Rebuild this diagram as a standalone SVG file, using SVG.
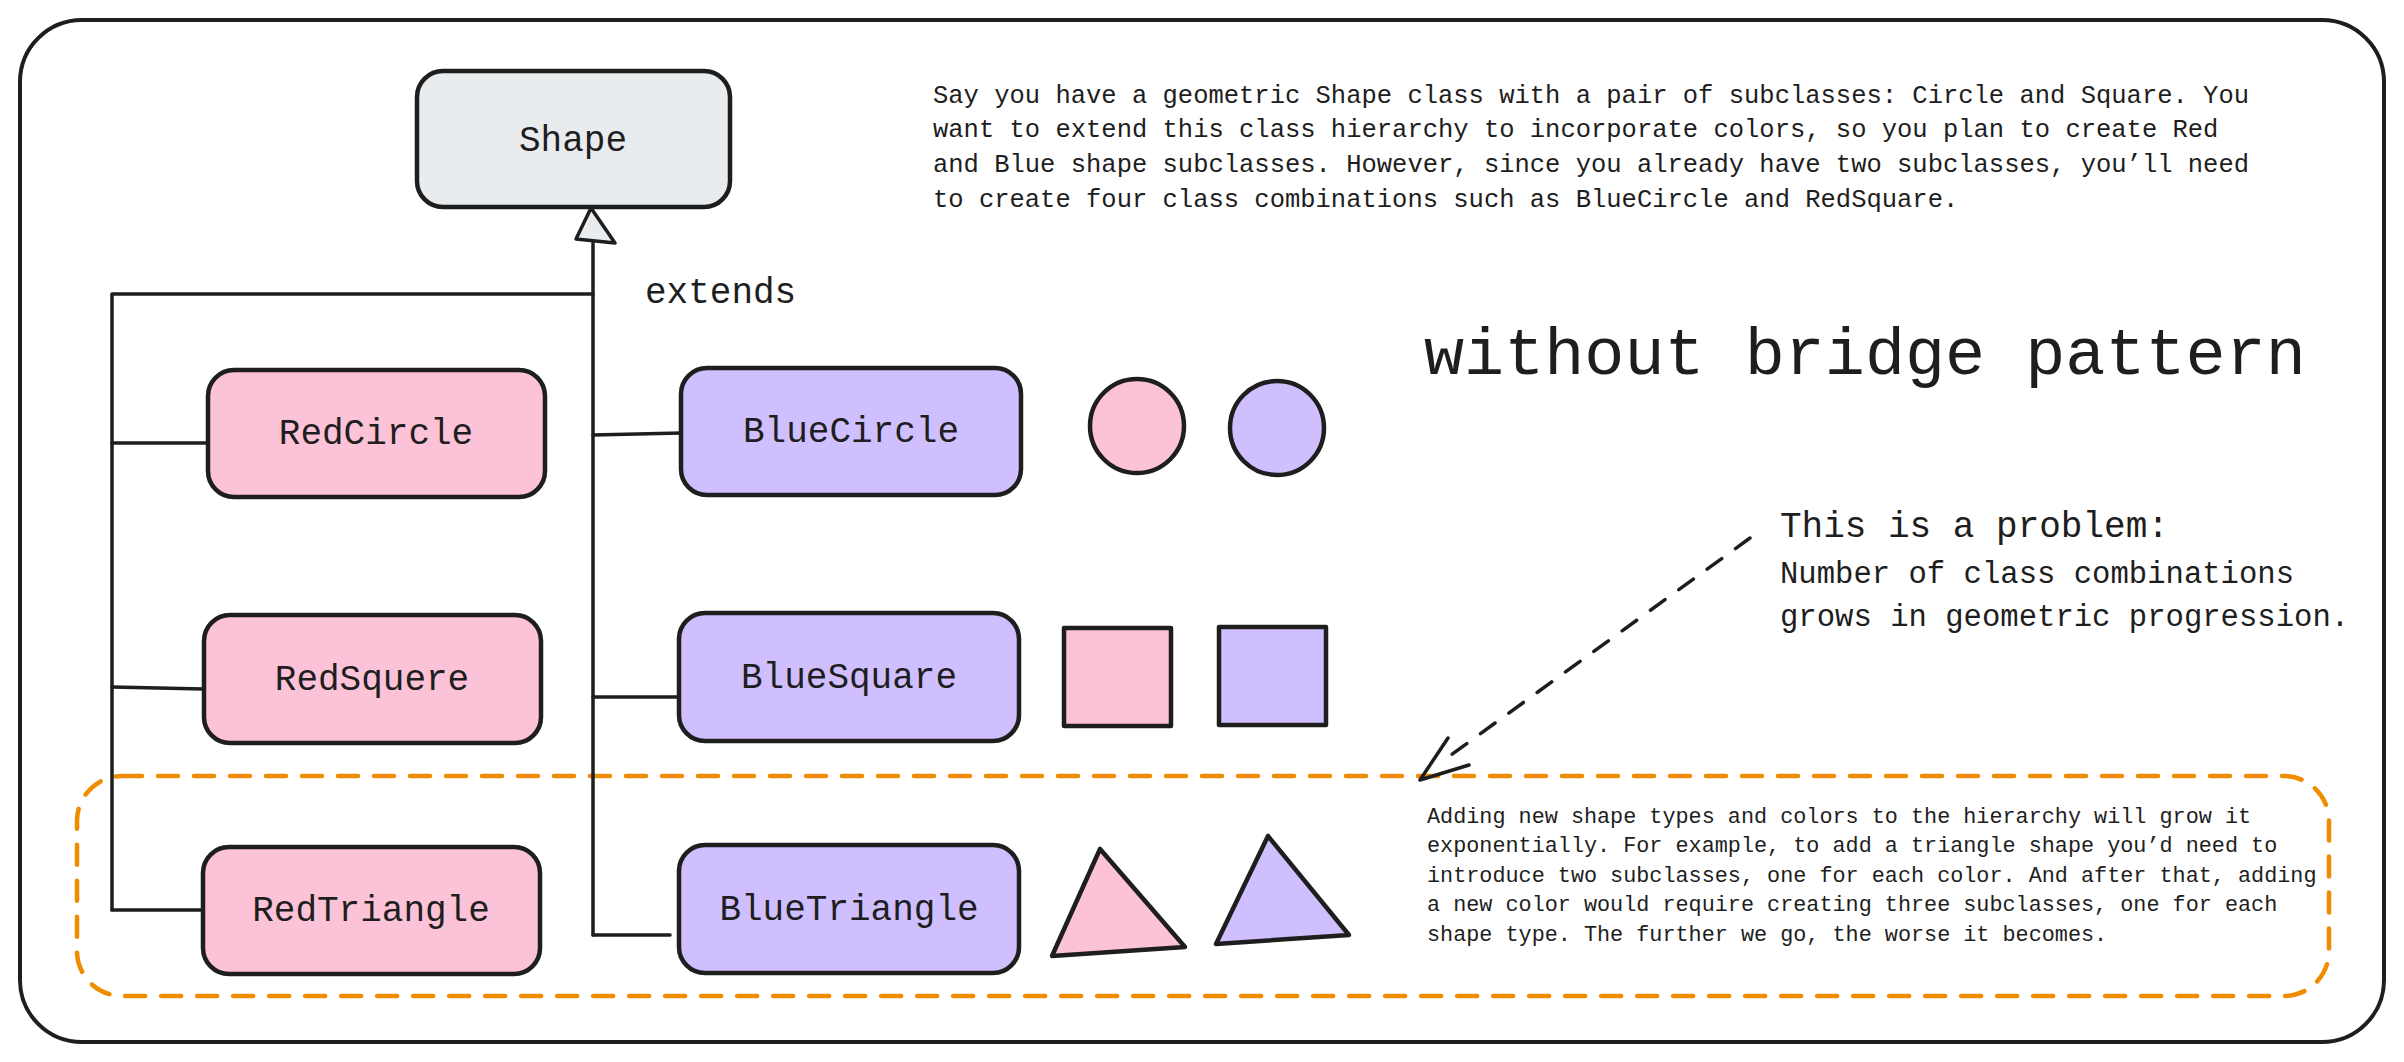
<svg xmlns="http://www.w3.org/2000/svg" width="2404" height="1062" viewBox="0 0 2404 1062">
<style>
.box{stroke:#1e1e1e;stroke-width:4.5;stroke-linejoin:round}
.gray{fill:#e9ecef}
.pink{fill:#fcc2d7}
.purple{fill:#d0bfff}
.lbl{font-family:"Liberation Mono","DejaVu Sans Mono",monospace;font-size:36px;fill:#1e1e1e;text-anchor:middle}
.txt{font-family:"Liberation Mono","DejaVu Sans Mono",monospace;fill:#1e1e1e}
.con{fill:none;stroke:#1e1e1e;stroke-width:3.5;stroke-linecap:round;stroke-linejoin:round}
</style>
<rect width="2404" height="1062" fill="#ffffff"/>
<rect id="frame" x="20" y="20" width="2364" height="1022" rx="62" fill="none" stroke="#1e1e1e" stroke-width="4"/>
<rect id="highlight" x="77" y="776" width="2252" height="220" rx="45" fill="none" stroke="#f08c00" stroke-width="4.5" stroke-dasharray="20 16" stroke-linecap="round"/>

<g id="connectors">
<path class="con" d="M593 935 V243"/>
<polygon points="591,208 576,239 615,243" fill="#e9ecef" stroke="#1e1e1e" stroke-width="3.5" stroke-linejoin="round"/>
<path class="con" d="M593 294 H112 V910"/>
<path class="con" d="M112 443 H208"/>
<path class="con" d="M112 687 L204 689"/>
<path class="con" d="M112 910 H203"/>
<path class="con" d="M593 435 L681 433"/>
<path class="con" d="M593 697 H679"/>
<path class="con" d="M593 935 H670"/>
<path class="con" d="M1750 538 L1440 763" stroke-width="4" stroke-dasharray="18 17"/>
<path class="con" d="M1448 738 L1420 780 L1469 765" stroke-width="4.5"/>
</g>

<g id="node-shape"><rect class="box gray" x="417" y="71" width="313" height="136" rx="26"/><text class="lbl" x="573" y="151">Shape</text></g>
<g id="node-redcircle"><rect class="box pink" x="208" y="370" width="337" height="127" rx="26"/><text class="lbl" x="376" y="444">RedCircle</text></g>
<g id="node-bluecircle"><rect class="box purple" x="681" y="368" width="340" height="127" rx="26"/><text class="lbl" x="851" y="442">BlueCircle</text></g>
<g id="node-redsquere"><rect class="box pink" x="204" y="615" width="337" height="128" rx="26"/><text class="lbl" x="372" y="690">RedSquere</text></g>
<g id="node-bluesquare"><rect class="box purple" x="679" y="613" width="340" height="128" rx="26"/><text class="lbl" x="849" y="688">BlueSquare</text></g>
<g id="node-redtriangle"><rect class="box pink" x="203" y="847" width="337" height="127" rx="26"/><text class="lbl" x="371" y="921">RedTriangle</text></g>
<g id="node-bluetriangle"><rect class="box purple" x="679" y="845" width="340" height="128" rx="26"/><text class="lbl" x="849" y="920">BlueTriangle</text></g>

<text class="txt" x="645" y="303" font-size="36">extends</text>

<g id="sample-shapes">
<circle class="box pink" cx="1137" cy="426" r="47"/>
<circle class="box purple" cx="1277" cy="428" r="47"/>
<rect class="box pink" x="1064" y="628" width="107" height="98"/>
<rect class="box purple" x="1219" y="627" width="107" height="98"/>
<polygon class="box pink" points="1100,849 1052,956 1185,947"/>
<polygon class="box purple" points="1268,836 1216,944 1349,935"/>
</g>

<g id="intro-text" class="txt" font-size="25.5">
<text x="933" y="103">Say you have a geometric Shape class with a pair of subclasses: Circle and Square. You</text>
<text x="933" y="137">want to extend this class hierarchy to incorporate colors, so you plan to create Red</text>
<text x="933" y="172">and Blue shape subclasses. However, since you already have two subclasses, you’ll need</text>
<text x="933" y="207">to create four class combinations such as BlueCircle and RedSquare.</text>
</g>

<text id="title" class="txt" x="1424" y="374" font-size="66.8">without bridge pattern</text>

<g id="problem-note" class="txt">
<text x="1780" y="537" font-size="36">This is a problem:</text>
<text x="1780" y="583" font-size="30.6">Number of class combinations</text>
<text x="1780" y="626" font-size="30.6">grows in geometric progression.</text>
</g>

<g id="growth-text" class="txt" font-size="21.8">
<text x="1427" y="823">Adding new shape types and colors to the hierarchy will grow it</text>
<text x="1427" y="852">exponentially. For example, to add a triangle shape you’d need to</text>
<text x="1427" y="882">introduce two subclasses, one for each color. And after that, adding</text>
<text x="1427" y="911">a new color would require creating three subclasses, one for each</text>
<text x="1427" y="941">shape type. The further we go, the worse it becomes.</text>
</g>
</svg>
